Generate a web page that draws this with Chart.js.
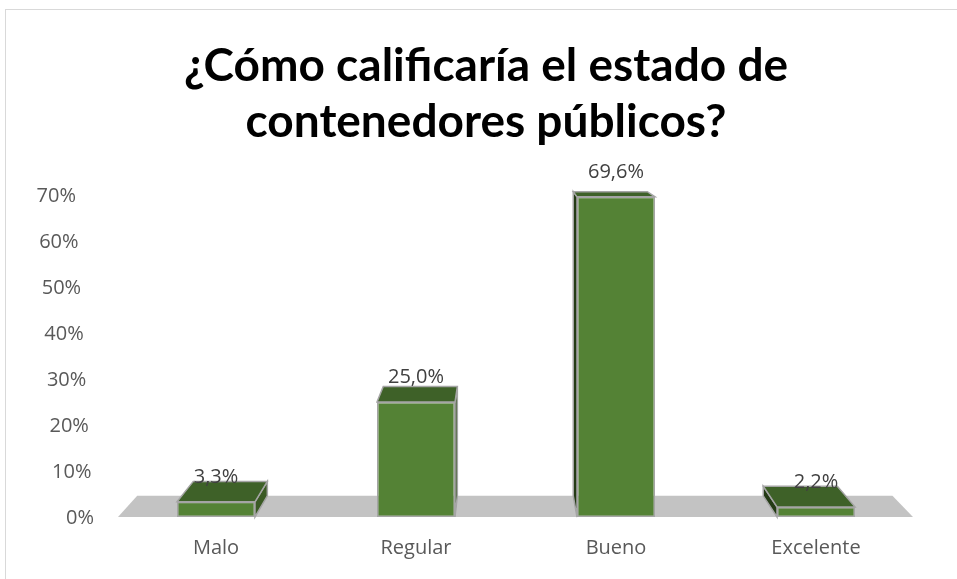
<!DOCTYPE html>
<html>
<head>
<meta charset="utf-8">
<script src="https://cdn.jsdelivr.net/npm/chart.js@4.4.1/dist/chart.umd.min.js"></script>
<style>
    html, body { margin: 0; padding: 0; background: #ffffff; }
    #wrap { position: relative; width: 957px; height: 579px; }
</style>
</head>
<body>
<div id="wrap"><canvas id="chart" width="957" height="579"></canvas></div>
<script>
// Chart data
const titleLines = [ '¿Cómo calificaría el estado de', 'contenedores públicos?' ];
const categories = [ 'Malo', 'Regular', 'Bueno', 'Excelente' ];
const percentages = [ 3.3, 25.0, 69.6, 2.2 ];
const yTickValues = [ 0, 10, 20, 30, 40, 50, 60, 70 ];

// Colours
const frontColor = '#548235';
const topColor = '#3e6128';
const sideLightColor = '#3a5a24';
const sideDarkColor = '#243b15';
const edgeColor = '#a5a5a5';
const floorColor = '#c3c3c3';
const textColor = '#595959';

const axisFont = '"Open Sans", sans-serif';

// Format value like the Spanish locale (decimal comma)
function formatPct ( v )
{
    return v.toFixed( 1 ).replace( '.', ',' ) + '%';
}

// Perspective helper: move a point toward the vanishing point
function project ( area, px, py, f )
{
    const vx = area.left + area.width * 0.4825;
    const vy = area.top - 102;
    return { x: vx + ( px - vx ) * ( 1 - f ), y: vy + ( py - vy ) * ( 1 - f ) };
}

function poly ( ctx, pts, fill )
{
    ctx.beginPath();
    ctx.moveTo( pts[ 0 ].x, pts[ 0 ].y );
    for ( let i = 1; i < pts.length; i++ ) ctx.lineTo( pts[ i ].x, pts[ i ].y );
    ctx.closePath();
    ctx.fillStyle = fill;
    ctx.fill();
}

const depthPlugin = {
    id: 'depth',
    beforeDraw ( chart )
    {
        const ctx = chart.ctx;
        ctx.save();
        ctx.fillStyle = '#ffffff';
        ctx.fillRect( 0, 0, chart.width, chart.height );
        ctx.strokeStyle = '#d9d9d9';
        ctx.lineWidth = 1;
        ctx.strokeRect( 5.5, 9.5, chart.width + 20, chart.height + 20 );

        // title, centred on the chart box
        ctx.fillStyle = '#000000';
        ctx.font = 'bold 46px Lato, sans-serif';
        ctx.textAlign = 'center';
        ctx.textBaseline = 'alphabetic';
        ctx.fillText( titleLines[ 0 ], 486, 81 );
        ctx.fillText( titleLines[ 1 ], 486, 137 );
        ctx.restore();
    },
    beforeDatasetsDraw ( chart )
    {
        const ctx = chart.ctx;
        const area = chart.chartArea;
        const yScale = chart.scales.y;
        const base = yScale.getPixelForValue( 0 );
        const f = 0.05;

        ctx.save();
        // floor
        const fl = { x: area.left + 2, y: base };
        const fr = { x: area.right - 3, y: base };
        poly( ctx, [ fl, fr, project( area, fr.x, fr.y, f ), project( area, fl.x, fl.y, f ) ], floorColor );

        // top and side faces of each bar
        const meta = chart.getDatasetMeta( 0 );
        const vx = area.left + area.width * 0.4825;
        meta.data.forEach( ( bar ) =>
        {
            const L = bar.x - bar.width / 2;
            const R = bar.x + bar.width / 2;
            const top = bar.y;
            const bot = bar.base;
            ctx.lineWidth = 1.5;
            ctx.strokeStyle = edgeColor;

            // side face
            let side;
            let sideFill;
            if ( bar.x < vx )
            {
                side = [ { x: R, y: top }, project( area, R, top, f ), project( area, R, bot, f ), { x: R, y: bot } ];
                sideFill = sideLightColor;
            } else
            {
                side = [ { x: L, y: top }, project( area, L, top, f ), project( area, L, bot, f ), { x: L, y: bot } ];
                sideFill = sideDarkColor;
            }
            poly( ctx, side, sideFill );
            ctx.stroke();

            // top face
            poly( ctx, [ { x: L, y: top }, { x: R, y: top }, project( area, R, top, f ), project( area, L, top, f ) ], topColor );
            ctx.stroke();
        } );
        ctx.restore();
    },
    afterDatasetsDraw ( chart )
    {
        const ctx = chart.ctx;
        const area = chart.chartArea;
        const yScale = chart.scales.y;
        const base = yScale.getPixelForValue( 0 );
        const span = base - area.top;

        ctx.save();
        ctx.font = '20px ' + axisFont;
        ctx.textBaseline = 'middle';

        // value labels
        ctx.fillStyle = '#404040';
        ctx.textAlign = 'center';
        const meta = chart.getDatasetMeta( 0 );
        meta.data.forEach( ( bar, i ) =>
        {
            ctx.fillText( formatPct( percentages[ i ] ), bar.x, bar.y - 25 );
        } );

        // y axis labels, following the receding back wall
        ctx.fillStyle = textColor;
        ctx.textAlign = 'right';
        yTickValues.forEach( ( v ) =>
        {
            const y = yScale.getPixelForValue( v );
            const shift = ( base - y ) / span * 18;
            ctx.fillText( v + '%', area.left - 22 - shift, y + 1 );
        } );
        ctx.restore();
    }
};

const ctx = document.getElementById( 'chart' ).getContext( '2d' );

new Chart( ctx, {
    type: 'bar',
    data: {
        labels: categories,
        datasets: [ {
            label: 'Porcentaje',
            data: percentages,
            backgroundColor: frontColor,
            borderColor: edgeColor,
            borderWidth: 1.5,
            borderSkipped: false,
            categoryPercentage: 1,
            barPercentage: 0.39
        } ]
    },
    options: {
        responsive: false,
        animation: false,
        layout: {
            padding: { top: 195, left: 5, right: 41, bottom: 0 }
        },
        plugins: {
            legend: { display: false },
            tooltip: { enabled: false },
            title: { display: false }
        },
        scales: {
            x: {
                grid: { display: false, drawTicks: false },
                border: { display: false },
                ticks: {
                    color: textColor,
                    padding: 19,
                    font: { family: axisFont, size: 20 }
                }
            },
            y: {
                min: 0,
                max: 70,
                grid: { display: false, drawTicks: false },
                border: { display: false },
                ticks: { display: false, stepSize: 10 },
                afterFit ( scale )
                {
                    scale.width = 111;
                }
            }
        }
    },
    plugins: [ depthPlugin ]
} );
</script>
</body>
</html>
